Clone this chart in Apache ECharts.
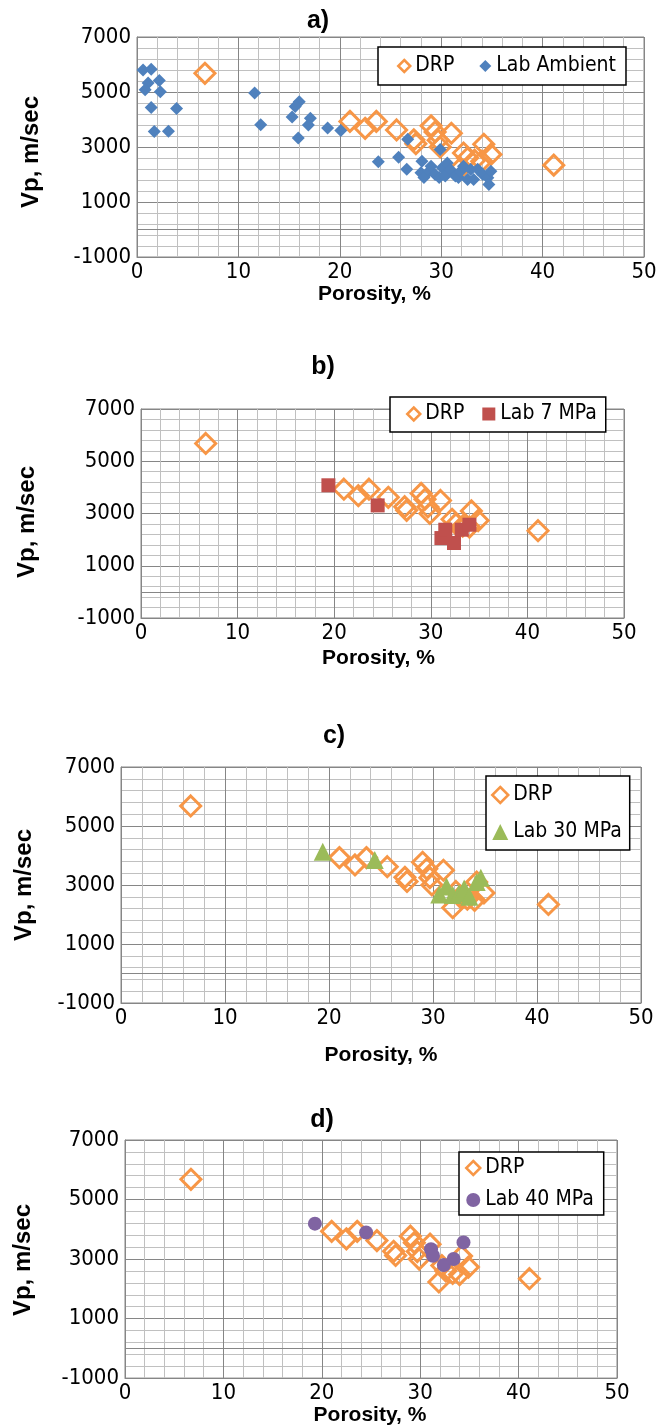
<!DOCTYPE html>
<html>
<head>
<meta charset="utf-8">
<script src="https://cdn.jsdelivr.net/npm/echarts@6/dist/echarts.min.js"></script>
<style>
html,body{margin:0;padding:0;background:#fff;overflow:hidden}
#chart{width:670px;height:1427px}
</style>
</head>
<body>
<div id="chart"></div>
<script>
// ---------------- data ----------------
const panelTitles = ['a)', 'b)', 'c)', 'd)'];
const labNames = ['Lab Ambient', 'Lab 7 MPa', 'Lab 30 MPa', 'Lab 40 MPa'];
const xAxisTitle = 'Porosity, %';
const yAxisTitle = 'Vp, m/sec';
const xTickMin = 0, xTickMax = 50, xTickStep = 10;
const yTickMin = -1000, yTickMax = 7000, yTickStep = 2000;

const drpPorosity = [6.7, 21.0, 22.5, 23.6, 25.6, 27.3, 27.5, 29.0, 29.4, 29.7, 29.9, 31.0, 31.9, 32.2, 32.6, 33.3, 34.0, 34.2, 34.9, 41.1];
const drpVp       = [5680, 3930, 3680, 3930, 3620, 3260, 3120, 3770, 3550, 3250, 3000, 3500, 2230, 2780, 2600, 2520, 2480, 3100, 2730, 2340];

const labAmbientPorosity = [0.6, 1.4, 1.1, 2.2, 0.8, 2.3, 1.4, 3.9, 1.7, 3.1, 11.6, 12.2, 16.0, 15.6, 15.3, 17.1, 16.9, 15.9, 18.8, 20.1, 23.8, 25.8, 26.6, 26.7, 29.9, 28.1, 28.0, 28.3, 28.8, 29.0, 29.4, 29.8, 30.1, 30.4, 30.6, 30.9, 31.4, 31.7, 31.9, 32.2, 32.6, 32.9, 33.2, 33.6, 34.1, 34.6, 34.9, 34.7];
const labAmbientVp       = [5800, 5830, 5330, 5420, 5080, 5010, 4440, 4400, 3560, 3570, 4960, 3810, 4650, 4470, 4090, 4050, 3800, 3330, 3690, 3600, 2460, 2630, 2190, 3280, 2910, 2480, 2060, 1890, 2120, 2300, 2000, 1890, 2250, 1950, 2420, 2180, 1950, 1890, 2120, 2300, 1820, 2180, 1820, 2190, 2000, 1880, 2120, 1640];

const lab7Porosity = [19.4, 24.5, 31.1, 31.5, 32.4, 33.2, 34.0];
const lab7Vp       = [4080, 3310, 2060, 2380, 1870, 2380, 2570];

const lab30Porosity = [19.4, 24.4, 30.6, 31.3, 31.9, 32.5, 33.0, 33.5, 34.2, 34.6];
const lab30Vp       = [4130, 3850, 2680, 2950, 2660, 2720, 2880, 2600, 3100, 3250];

const lab40Porosity = [19.3, 24.5, 31.1, 31.3, 32.4, 33.4, 34.4];
const lab40Vp       = [4190, 3890, 3330, 3110, 2800, 3000, 3560];

// ---------------- helpers ----------------
const zip = (xs, ys) => xs.map((x, i) => [x, ys[i]]);
const labData = [
  zip(labAmbientPorosity, labAmbientVp),
  zip(lab7Porosity, lab7Vp),
  zip(lab30Porosity, lab30Vp),
  zip(lab40Porosity, lab40Vp)
];
const drpData = zip(drpPorosity, drpVp);

const FONT = "'Liberation Sans', Arial, sans-serif";
const FONT_N = "'DejaVu Sans Condensed', 'Liberation Sans', sans-serif";
const ORANGE = '#F79646';
const labColors = ['#4F81BD', '#C0504D', '#9BBB59', '#8064A2'];
const labSymbols = ['diamond', 'rect', 'triangle', 'circle'];
const labSizes = [13, 14, 18, 14];
const legendIconSizes = [12, 13, 16, 14];

const grids = [
  {left: 137, top: 37,   width: 507, height: 220},
  {left: 141, top: 409,  width: 483, height: 209},
  {left: 121, top: 767,  width: 520, height: 236},
  {left: 125, top: 1140, width: 492, height: 240}
];
const xNameGaps = [21, 30, 42, 26];
const xNamePads = [[0, 32, 0, 0], [0, 8, 0, 0], [0, 0, 0, 0], [0, 2, 0, 0]];
const yNameGaps = [94, 102, 85, 90];
const yNamePads = [[0, 10, 0, 0], [0, 17, 0, 0], [0, 0, 0, 0], [0, 2, 0, 0]];
const titlePos = [[318, 21], [323, 367], [334, 736], [322, 1120]];

const legends = [
  {left: 378, top: 47,   orient: 'horizontal', padding: [7, 10, 7, 19], itemGap: 25},
  {left: 390, top: 397,  orient: 'horizontal', padding: [5, 9, 6, 16], itemGap: 18},
  {left: 486, top: 776,  orient: 'vertical',   padding: [7, 8, 6, 5],  itemGap: 13},
  {left: 459, top: 1152, orient: 'vertical',   padding: [4, 10, 3, 6], itemGap: 8}
];

const GRID_MAJOR = '#868686';
const GRID_MINOR = '#c0c0c0';
const plainNum = v => String(v);

const option = {
  animation: false,
  backgroundColor: '#fff',
  textStyle: {fontFamily: FONT},
  grid: grids.map(g => Object.assign({show: true, borderColor: GRID_MAJOR, borderWidth: 1, containLabel: false}, g)),
  xAxis: grids.map((g, i) => ({
    gridIndex: i, type: 'value', min: xTickMin, max: xTickMax, interval: xTickStep,
    position: 'bottom',
    axisLine: {show: true, onZero: false, lineStyle: {color: GRID_MAJOR, width: 1}},
    axisTick: {show: false},
    axisLabel: {fontSize: 22, color: '#000', margin: 4, fontFamily: FONT_N, formatter: plainNum},
    splitLine: {show: true, lineStyle: {color: GRID_MAJOR, width: 1}},
    minorTick: {show: false, splitNumber: 5},
    minorSplitLine: {show: true, lineStyle: {color: GRID_MINOR, width: 1}},
    name: xAxisTitle, nameLocation: 'middle', nameGap: xNameGaps[i],
    nameTextStyle: {fontSize: 21, fontWeight: 'bold', color: '#000', fontFamily: FONT, padding: xNamePads[i]}
  })),
  yAxis: grids.map((g, i) => ({
    gridIndex: i, type: 'value', min: yTickMin, max: yTickMax, interval: yTickStep,
    axisLine: {show: true, onZero: false, lineStyle: {color: GRID_MAJOR, width: 1}},
    axisTick: {show: false},
    axisLabel: {fontSize: 22, color: '#000', margin: 6, fontFamily: FONT_N, formatter: plainNum},
    splitLine: {show: true, lineStyle: {color: GRID_MAJOR, width: 1}},
    minorTick: {show: false, splitNumber: 5},
    minorSplitLine: {show: true, lineStyle: {color: GRID_MINOR, width: 1}},
    name: yAxisTitle, nameLocation: 'middle', nameGap: yNameGaps[i],
    nameTextStyle: {fontSize: 24, fontWeight: 'bold', color: '#000', fontFamily: FONT, padding: yNamePads[i]}
  })),
  legend: legends.map((l, i) => ({
    left: l.left, top: l.top, orient: l.orient, padding: l.padding, itemGap: l.itemGap,
    borderColor: '#000', borderWidth: 1.5, backgroundColor: '#fff',
    itemWidth: legendIconSizes[i], itemHeight: legendIconSizes[i],
    selectedMode: false,
    textStyle: {fontSize: 21, color: '#000', fontFamily: FONT_N, lineHeight: 24},
    data: [
      {name: 'DRP', icon: 'diamond', itemStyle: {color: '#fff', borderColor: ORANGE, borderWidth: 2.5}},
      {name: labNames[i], icon: labSymbols[i], itemStyle: {color: labColors[i], borderWidth: 0}}
    ]
  })),
  series: [],
  graphic: titlePos.map((p, i) => ({
    type: 'text', x: p[0], y: p[1],
    style: {text: panelTitles[i], fontSize: 25, fontWeight: 'bold', fill: '#000', fontFamily: FONT, align: 'center', verticalAlign: 'middle'}
  }))
};

grids.forEach((g, i) => {
  option.series.push({
    type: 'scatter', name: 'DRP', xAxisIndex: i, yAxisIndex: i,
    data: drpData, symbol: 'diamond', symbolSize: 20, z: 2,
    itemStyle: {color: 'rgba(255,255,255,0)', borderColor: ORANGE, borderWidth: 3, opacity: 1},
    emphasis: {disabled: true},
    markLine: {
      silent: true, symbol: 'none', animation: false,
      label: {show: false},
      lineStyle: {color: GRID_MAJOR, width: 1, type: 'solid'},
      emphasis: {disabled: true},
      data: [{yAxis: 0}]
    }
  });
  option.series.push({
    type: 'scatter', name: labNames[i], xAxisIndex: i, yAxisIndex: i,
    data: labData[i], symbol: labSymbols[i], symbolSize: labSizes[i], z: 3,
    itemStyle: {color: labColors[i], opacity: 1},
    emphasis: {disabled: true}
  });
});

const chart = echarts.init(document.getElementById('chart'), null, {renderer: 'canvas'});
chart.setOption(option);
</script>
</body>
</html>
